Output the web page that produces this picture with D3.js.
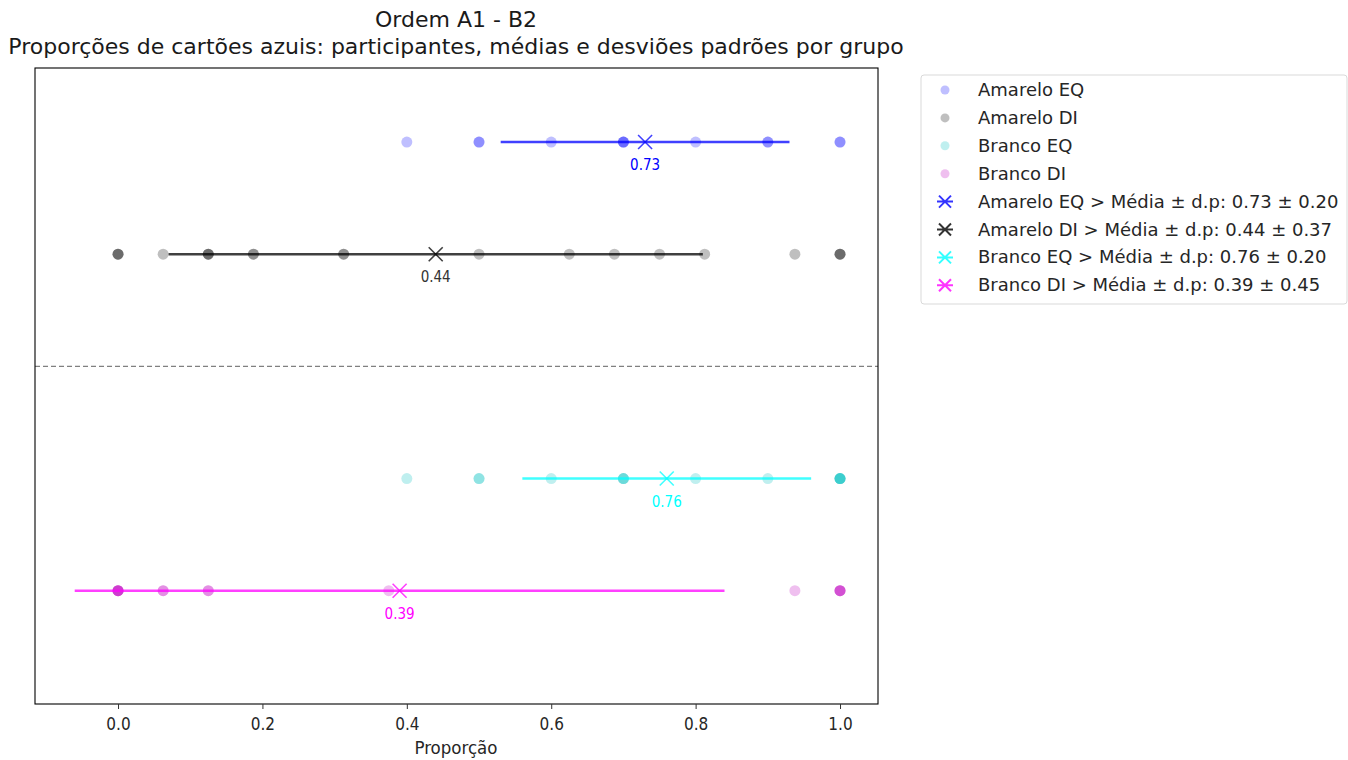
<!DOCTYPE html>
<html>
<head>
<meta charset="UTF-8">
<script src="https://cdn.jsdelivr.net/npm/d3@7/dist/d3.min.js"></script>
<style>
  body { margin: 0; background: #fff; }
  text { font-family: "DejaVu Sans", sans-serif; }
  .cond { font-family: "DejaVu Sans Condensed", "DejaVu Sans", sans-serif; font-stretch: condensed; }
</style>
</head>
<body>
<svg id="chart" width="1348" height="760"></svg>
<script>
// groups, top to bottom
var groups = ["Amarelo EQ", "Amarelo DI", "Branco EQ", "Branco DI"];
var rowY = [4, 3, 1, 0];
var dotColors = ["#0000ff", "#000000", "#00bfbf", "#bf00bf"];
var lineColors = ["#0000ff", "#000000", "#00ffff", "#ff00ff"];

// participant proportions (repeated values = overlapping dots)
var amareloEQ = [0.4, 0.5, 0.5, 0.6, 0.7, 0.7, 0.7, 0.8, 0.9, 0.9, 1, 1];
var amareloDI = [0, 0, 0, 0.0625, 0.125, 0.125, 0.125, 0.1875, 0.1875, 0.3125, 0.3125,
                 0.5, 0.625, 0.6875, 0.75, 0.8125, 0.9375, 1, 1, 1];
var brancoEQ = [0.4, 0.5, 0.5, 0.6, 0.7, 0.7, 0.7, 0.8, 0.9, 1, 1, 1, 1, 1];
var brancoDI = [0, 0, 0, 0, 0, 0.0625, 0.0625, 0.125, 0.125, 0.375, 0.9375, 1, 1, 1, 1];
var values = [amareloEQ, amareloDI, brancoEQ, brancoDI];

// means and standard deviations (from legend)
var means = [0.73, 0.44, 0.76, 0.39];
var sds = [0.20, 0.37, 0.20, 0.45];
var xTicks = [0, 0.2, 0.4, 0.6, 0.8, 1.0];

var svg = d3.select("#chart");
var margin = {left: 35, top: 68, right: 878, bottom: 704};

var x = d3.scaleLinear().domain([-0.115, 1.0526]).range([margin.left, margin.right]);
var y = d3.scaleLinear().domain([-1.01, 4.66]).range([margin.bottom, margin.top]);

// title
svg.append("text").attr("x", 456).attr("y", 27).attr("text-anchor", "middle")
   .style("font-size", "22px").attr("fill", "#1a1a1a").text("Ordem A1 - B2");
svg.append("text").attr("x", 456).attr("y", 54).attr("text-anchor", "middle")
   .style("font-size", "22px").attr("fill", "#1a1a1a")
   .text("Proporções de cartões azuis: participantes, médias e desviões padrões por grupo");

// separator
svg.append("line")
   .attr("x1", margin.left).attr("x2", margin.right)
   .attr("y1", y(2)).attr("y2", y(2))
   .attr("stroke", "#808080").attr("stroke-width", 1.2)
   .attr("stroke-dasharray", "5,3");

// dots
groups.forEach(function(g, i) {
    svg.append("g").selectAll("circle")
        .data(values[i])
        .enter().append("circle")
        .attr("cx", function(d) { return x(d); })
        .attr("cy", y(rowY[i]))
        .attr("r", 5.5)
        .attr("fill", dotColors[i])
        .attr("fill-opacity", 0.25);
});

// mean +- sd
groups.forEach(function(g, i) {
    var cy = y(rowY[i]);
    var cx = x(means[i]);
    var gg = svg.append("g").attr("stroke", lineColors[i]).attr("stroke-opacity", 0.75);
    gg.append("line")
        .attr("x1", x(means[i] - sds[i])).attr("x2", x(means[i] + sds[i]))
        .attr("y1", cy).attr("y2", cy).attr("stroke-width", 2.5);
    gg.append("path")
        .attr("d", "M" + (cx - 7) + "," + (cy - 7) + "L" + (cx + 7) + "," + (cy + 7) +
                   "M" + (cx - 7) + "," + (cy + 7) + "L" + (cx + 7) + "," + (cy - 7))
        .attr("stroke-width", 1.6).attr("fill", "none");
    svg.append("text")
        .attr("class", "cond")
        .attr("x", cx).attr("y", cy + 28)
        .attr("text-anchor", "middle")
        .attr("fill", i == 1 ? "#333" : lineColors[i])
        .style("font-size", "15px")
        .text(means[i].toFixed(2));
});

// frame
svg.append("rect")
   .attr("x", margin.left).attr("y", margin.top)
   .attr("width", margin.right - margin.left).attr("height", margin.bottom - margin.top)
   .attr("fill", "none").attr("stroke", "#000").attr("stroke-width", 1.1);

// x axis
var xAxis = d3.axisBottom(x).tickValues(xTicks).tickFormat(d3.format(".1f")).tickSizeOuter(0).tickSize(5);
var ax = svg.append("g").attr("transform", "translate(0," + margin.bottom + ")").call(xAxis);
ax.attr("font-family", null).attr("font-size", null);
ax.select(".domain").remove();
ax.selectAll("text").attr("class", "cond").style("font-size", "17px").attr("fill", "#262626").attr("y", 11).attr("dy", "0.9em");
ax.selectAll("line").attr("stroke", "#333");

svg.append("text").attr("class", "cond").attr("x", 456).attr("y", 754).attr("text-anchor", "middle")
   .style("font-size", "18.5px").attr("fill", "#262626").text("Proporção");

// legend
var lg = svg.append("g");
lg.append("rect").attr("x", 921).attr("y", 75).attr("width", 426).attr("height", 229)
  .attr("rx", 3).attr("fill", "#fff").attr("stroke", "#d9d9d9");
var legendRows = [];
groups.forEach(function(g, i) { legendRows.push({label: g, i: i, kind: "dot"}); });
groups.forEach(function(g, i) {
    legendRows.push({label: g + " > Média ± d.p: " + means[i].toFixed(2) + " ± " + sds[i].toFixed(2), i: i, kind: "mean"});
});
legendRows.forEach(function(r, k) {
    var ly = 90 + k * 27.9;
    if (r.kind == "dot") {
        lg.append("circle").attr("cx", 945).attr("cy", ly).attr("r", 4.5)
          .attr("fill", dotColors[r.i]).attr("fill-opacity", 0.25);
    } else {
        var c = lineColors[r.i];
        lg.append("path")
          .attr("d", "M937," + ly + "L953," + ly + "M939," + (ly - 6) + "L951," + (ly + 6) + "M939," + (ly + 6) + "L951," + (ly - 6))
          .attr("stroke", c).attr("stroke-opacity", 0.8).attr("stroke-width", 2).attr("fill", "none");
    }
    lg.append("text").attr("x", 978).attr("y", ly + 6)
      .style("font-size", "18px").attr("fill", "#262626").text(r.label);
});
</script>
</body>
</html>
